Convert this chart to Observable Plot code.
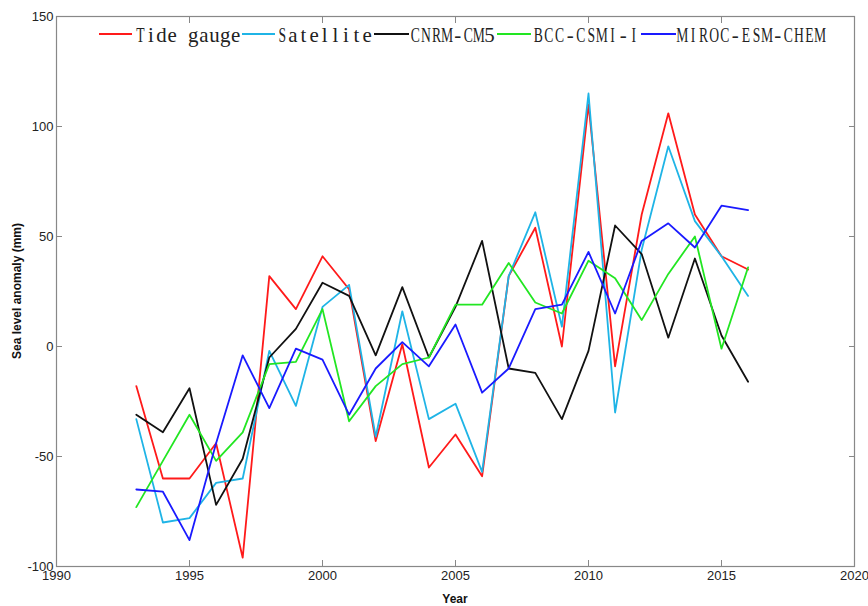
<!DOCTYPE html>
<html><head><meta charset="utf-8">
<script src="https://cdn.jsdelivr.net/npm/d3@7"></script>
<script src="https://cdn.jsdelivr.net/npm/@observablehq/plot@0.6"></script>
<style>body{margin:0;background:#fff} #chart{width:868px;height:606px}</style>
</head><body><div id="chart"></div>
<script>
const years = [1993,1994,1995,1996,1997,1998,1999,2000,2001,2002,2003,2004,2005,2006,2007,2008,2009,2010,2011,2012,2013,2014,2015,2016];
const seriesNames = ["Tide gauge","Satellite","CNRM-CM5","BCC-CSMI-I","MIROC-ESM-CHEM"];
const seriesColors = ["#ff1a1a","#1fb4e6","#111111","#22e622","#1a1aff"];
const tideGauge = [-18,-60,-60,-44,-96,32,17,41,26,-43,1,-55,-40,-59,32,54,0,110,-9,60,106,60,41,35];
const satellite = [-33,-80,-78,-62,-60,-2,-27,18,28,-41,16,-33,-26,-57,32,61,9,115,-30,44,91,57,41,23];
const cnrmCM5 = [-31,-39,-19,-72,-51,-5,8,29,23,-4,27,-5,18,48,-10,-12,-33,-2,55,42,4,40,5,-16];
const bccCSMI = [-73,-52,-31,-52,-39,-8,-7,17,-34,-18,-8,-5,19,19,38,20,15,39,31,12,33,50,-1,36];
const mirocESM = [-65,-66,-88,-44,-4,-28,-1,-6,-31,-10,2,-9,10,-21,-10,17,19,43,15,48,56,45,64,62];
const xTicks = [1990,1995,2000,2005,2010,2015,2020];
const yTicks = [-100,-50,0,50,100,150];
const xLabel = "Year";
const yLabel = "Sea level anomaly (mm)";

const valueArrays = [tideGauge, satellite, cnrmCM5, bccCSMI, mirocESM];
const rows = [];
seriesNames.forEach((s, i) => years.forEach((yr, j) => rows.push({year: yr, value: valueArrays[i][j], series: s})));

const W = 868, H = 606, mL = 56, mR = 14, mT = 16, mB = 40;
const axisStyle = {stroke: "#888", color: "#222"};
const svg = Plot.plot({
  width: W, height: H,
  marginLeft: mL, marginRight: mR, marginTop: mT, marginBottom: mB,
  style: {fontFamily: "'Liberation Sans', Arial, sans-serif", fontSize: "12px", color: "#222", background: "#fff"},
  x: {domain: [1990, 2020], label: null},
  y: {domain: [-100, 150], label: null},
  color: {domain: seriesNames, range: seriesColors},
  marks: [
    Plot.line(rows, {x: "year", y: "value", z: "series", stroke: "series", strokeWidth: 1.8}),
    Plot.frame({stroke: "#888", strokeWidth: 1.2}),
    Plot.axisX({ticks: xTicks, tickSize: -6, tickPadding: 10, tickFormat: d => String(d), label: null, ...axisStyle, fontSize: 13}),
    Plot.axisX({anchor: "top", ticks: xTicks, tickSize: -6, tickFormat: () => "", label: null, ...axisStyle}),
    Plot.axisY({ticks: yTicks, tickSize: -6, tickPadding: 9, tickFormat: d => String(d), label: null, ...axisStyle, fontSize: 13}),
    Plot.axisY({anchor: "right", ticks: yTicks, tickSize: -6, tickFormat: () => "", label: null, ...axisStyle})
  ]
});
document.getElementById("chart").appendChild(svg);

const s = d3.select(svg);
s.append("text").attr("x", (mL + W - mR) / 2).attr("y", 603).attr("text-anchor", "middle")
  .attr("font-family", "'Liberation Sans', Arial, sans-serif").attr("font-weight", "bold").attr("font-size", 12)
  .attr("fill", "#111").text(xLabel);
s.append("text").attr("transform", `translate(21,${(mT + H - mB) / 2}) rotate(-90)`).attr("text-anchor", "middle")
  .attr("font-family", "'Liberation Sans', Arial, sans-serif").attr("font-weight", "bold").attr("font-size", 12)
  .attr("fill", "#111").text(yLabel);

// legend (inside plot, top) — serif glyphs on a fixed-width grid; capitals condensed
const legendLayout = [
  {l0: 99, l1: 132, tx: 135},
  {l0: 242, l1: 275, tx: 277},
  {l0: 374, l1: 409, tx: 410},
  {l0: 497, l1: 531, tx: 533},
  {l0: 641, l1: 676, tx: 677}
];
const charW = 10.6;
const lg = s.append("g");
seriesNames.forEach((name, i) => {
  const L = legendLayout[i];
  lg.append("line").attr("x1", L.l0).attr("x2", L.l1).attr("y1", 34).attr("y2", 34)
    .attr("stroke", seriesColors[i]).attr("stroke-width", 2);
  const g = lg.append("g").attr("transform", `translate(${L.tx},42)`);
  Array.from(name).forEach((c, k) => {
    if (c === " ") return;
    const sx = /[A-Z]/.test(c) ? 0.62 : 0.95;
    g.append("text").attr("transform", `translate(${((k + 0.5) * charW).toFixed(2)},0) scale(${sx},1)`)
      .attr("text-anchor", "middle")
      .attr("font-family", "'Liberation Serif', 'DejaVu Serif', serif")
      .attr("font-size", 22).attr("fill", "#222").text(c);
  });
});
</script>
</body></html>
